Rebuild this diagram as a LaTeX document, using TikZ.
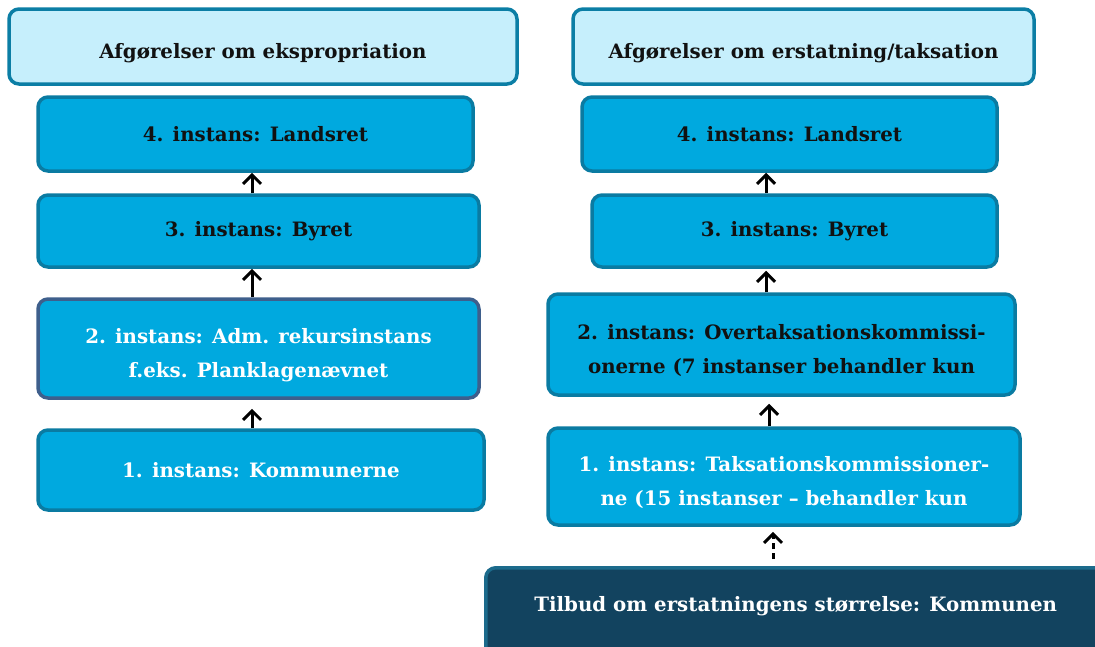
\documentclass[tikz,border=0pt]{standalone}
\usepackage{fontspec}
\setmainfont{DejaVu Serif}
\usetikzlibrary{arrows.meta}

\definecolor{hdrfill}{HTML}{C6EFFC}
\definecolor{hdrline}{HTML}{0B7EA5}
\definecolor{boxfill}{HTML}{00A9DF}
\definecolor{boxline}{HTML}{0A7BA2}
\definecolor{admline}{HTML}{3E5F8C}
\definecolor{offfill}{HTML}{12435F}
\definecolor{offline}{HTML}{1C6B8C}
\definecolor{ink}{HTML}{111111}

\begin{document}
\begin{tikzpicture}[x=1pt,y=-1pt,
  box/.style={draw=boxline,fill=boxfill,line width=3.5pt,rounded corners=10pt,
    font=\bfseries\fontsize{19.8}{34}\selectfont,align=center,inner sep=0pt,text=ink},
  head/.style={box,draw=hdrline,fill=hdrfill,text height=27pt,text depth=3pt},
  twoline/.style={text height=60pt,text depth=3pt},
  light/.style={text=white},
  up/.style={line width=3pt,-{Straight Barb[length=9pt,width=18pt]}}]
\useasboundingbox (0,0) rectangle (1095,646);

% left column
\node[head,minimum width=508,minimum height=75] at (263,46.5) (lh) {Afgørelser om ekspropriation};
\node[box,minimum width=435,minimum height=74] at (255.5,134) (l4) {4. instans: Landsret};
\node[box,minimum width=441,minimum height=72] at (258.5,231) (l3) {3. instans: Byret};
\node[box,twoline,light,draw=admline,minimum width=441,minimum height=99] at (258.5,348.5) (l2)
  {2. instans: Adm. rekursinstans\\f.eks. Planklagenævnet};
\node[box,light,minimum width=446,minimum height=80] at (261,470) (l1) {1. instans: Kommunerne};

% right column
\node[head,minimum width=461,minimum height=75] at (803.5,46.5) (rh) {Afgørelser om erstatning/taksation};
\node[box,minimum width=415,minimum height=74] at (789.5,134) (r4) {4. instans: Landsret};
\node[box,minimum width=405,minimum height=72] at (794.5,231) (r3) {3. instans: Byret};
\node[box,twoline,minimum width=467,minimum height=101] at (781.5,344.5) (r2)
  {2. instans: Overtaksationskommissi-\\onerne (7 instanser behandler kun};
\node[box,twoline,light,minimum width=472,minimum height=97] at (784,476.5) (r1)
  {1. instans: Taksationskommissioner-\\ne (15 instanser -- behandler kun};
\node[box,light,draw=offline,fill=offfill,anchor=north west,minimum width=620,
  text height=44pt,text depth=60pt] at (484,566) (off)
  {Tilbud om erstatningens størrelse: Kommunen};

% arrows
\draw[up] (l3.north -| 252,0) -- (l4.south -| 252,0);
\draw[up] (l2.north -| 252,0) -- (l3.south -| 252,0);
\draw[up,shorten >=9pt] (l1.north -| 252,0) -- (l2.south -| 252,0);
\draw[up] (r3.north -| 766,0) -- (r4.south -| 766,0);
\draw[up,shorten >=2pt] (r2.north -| 766,0) -- (r3.south -| 766,0);
\draw[up,shorten >=7pt] (r1.north -| 769,0) -- (r2.south -| 769,0);
\draw[up,dash pattern=on 6pt off 4pt,shorten <=7pt,shorten >=5pt] (off.north -| 773,0) -- (r1.south -| 773,0);
\end{tikzpicture}
\end{document}
